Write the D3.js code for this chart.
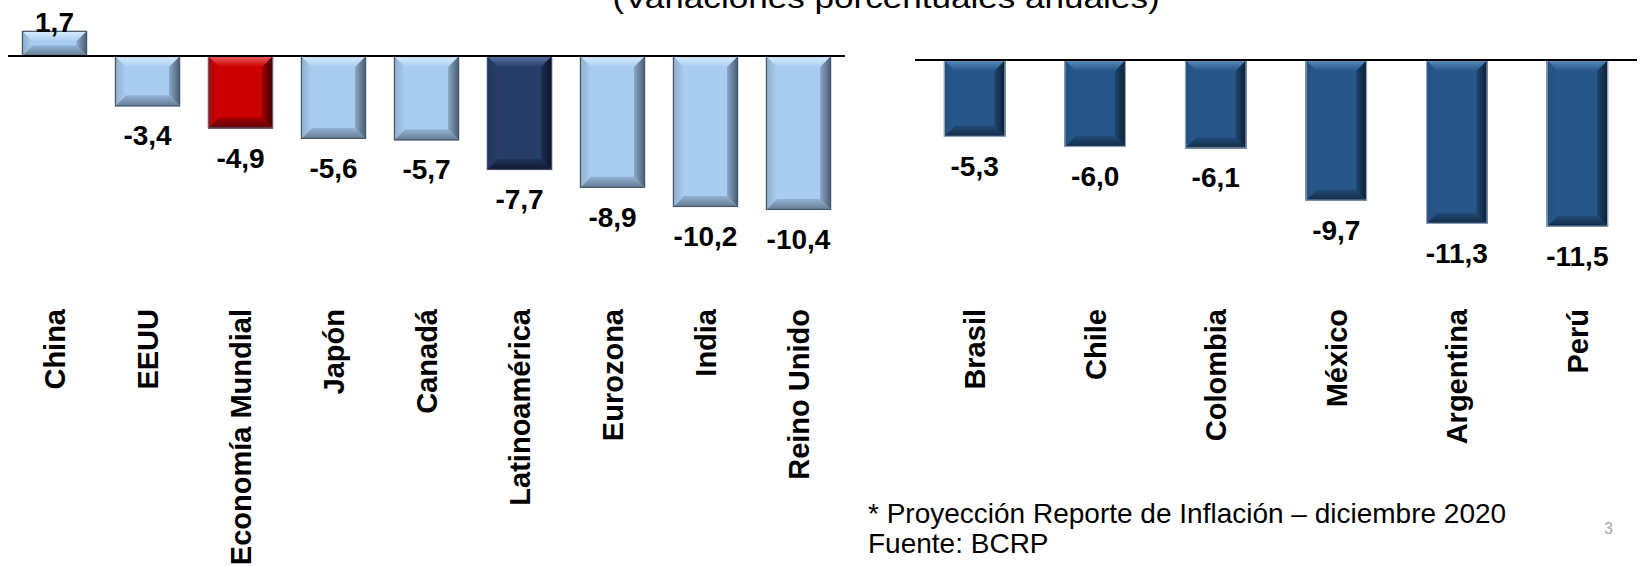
<!DOCTYPE html>
<html>
<head>
<meta charset="utf-8">
<script src="https://cdn.jsdelivr.net/npm/d3@7"></script>
<style>
  body { margin: 0; background: #ffffff; }
  svg { display: block; }
  text { font-family: "Liberation Sans", Arial, sans-serif; }
</style>
</head>
<body>
<svg id="chart" width="1642" height="566"></svg>
<script>
// Growth projections 2020 (annual % change)
const worldCategories = ["China", "EEUU", "Economía Mundial", "Japón", "Canadá", "Latinoamérica", "Eurozona", "India", "Reino Unido"];
const worldValues = [1.7, -3.4, -4.9, -5.6, -5.7, -7.7, -8.9, -10.2, -10.4];
const worldGroups = ["light", "light", "red", "light", "light", "navy", "light", "light", "light"];

const latamCategories = ["Brasil", "Chile", "Colombia", "México", "Argentina", "Perú"];
const latamValues = [-5.3, -6.0, -6.1, -9.7, -11.3, -11.5];
const latamGroups = ["blue", "blue", "blue", "blue", "blue", "blue"];

const titleText = "(Variaciones porcentuales anuales)";
const noteLines = ["* Proyección Reporte de Inflación – diciembre 2020", "Fuente: BCRP"];
const pageNumber = "3";

// Bevel colour themes: face, outer/inner tones of each edge, outline
const themes = {
  light: { face: "#a8cdf1", topO: "#dcefff", topI: "#a8cdf1", botO: "#647a92", botI: "#93b3d3",
           leftO: "#8eadcc", leftI: "#a8cdf1", rightO: "#485b70", rightI: "#8ba8c6", stroke: "#46576a" },
  red:   { face: "#cc0000", topO: "#ee6060", topI: "#cc0000", botO: "#5e0000", botI: "#a40000",
           leftO: "#b00000", leftI: "#cc0000", rightO: "#3e0000", rightI: "#9a0000", stroke: "#56657a" },
  navy:  { face: "#263d67", topO: "#5a77a8", topI: "#263d67", botO: "#0f1a30", botI: "#1f3357",
           leftO: "#213760", leftI: "#263d67", rightO: "#0a1222", rightI: "#1d3052", stroke: "#3f4e66" },
  blue:  { face: "#27578a", topO: "#5a8bbd", topI: "#27578a", botO: "#122a45", botI: "#214b77",
           leftO: "#24507f", leftI: "#27578a", rightO: "#0b1d31", rightI: "#1f4670", stroke: "#8ea3b8" }
};

const fmt = d3.formatLocale({ decimal: ",", thousands: ".", grouping: [3], currency: ["", ""], minus: "-" }).format(".1f");

const svg = d3.select("#chart");
const defs = svg.append("defs");

// Linear gradients for each bevel side of every theme
Object.entries(themes).forEach(([name, t]) => {
  const sides = {
    top:    { x1: 0, y1: 0, x2: 0, y2: 1, a: t.topO, b: t.topI },
    bottom: { x1: 0, y1: 1, x2: 0, y2: 0, a: t.botO, b: t.botI },
    left:   { x1: 0, y1: 0, x2: 1, y2: 0, a: t.leftO, b: t.leftI },
    right:  { x1: 1, y1: 0, x2: 0, y2: 0, a: t.rightO, b: t.rightI }
  };
  Object.entries(sides).forEach(([side, s]) => {
    const g = defs.append("linearGradient").attr("id", `g-${name}-${side}`)
      .attr("x1", s.x1).attr("y1", s.y1).attr("x2", s.x2).attr("y2", s.y2);
    g.append("stop").attr("offset", 0).attr("stop-color", s.a);
    g.append("stop").attr("offset", 1).attr("stop-color", s.b);
  });
});

function bevelBar(g, x, y0, w, h, theme) {
  const t = themes[theme];
  const b = Math.min(11, h / 2.4, w / 4);
  const x1 = x + w, y1 = y0 + h;
  const poly = pts => pts.map(p => p.join(",")).join(" ");
  g.append("rect").attr("x", x).attr("y", y0).attr("width", w).attr("height", h).attr("fill", t.face);
  g.append("polygon").attr("points", poly([[x, y0], [x1, y0], [x1 - b, y0 + b], [x + b, y0 + b]])).attr("fill", `url(#g-${theme}-top)`);
  g.append("polygon").attr("points", poly([[x, y1], [x1, y1], [x1 - b, y1 - b], [x + b, y1 - b]])).attr("fill", `url(#g-${theme}-bottom)`);
  g.append("polygon").attr("points", poly([[x, y0], [x + b, y0 + b], [x + b, y1 - b], [x, y1]])).attr("fill", `url(#g-${theme}-left)`);
  g.append("polygon").attr("points", poly([[x1, y0], [x1 - b, y0 + b], [x1 - b, y1 - b], [x1, y1]])).attr("fill", `url(#g-${theme}-right)`);
  g.append("rect").attr("x", x + 0.5).attr("y", y0 + 0.5).attr("width", w - 1).attr("height", h - 1)
    .attr("fill", "none").attr("stroke", t.stroke).attr("stroke-width", 1.2);
}

function drawPanel(cfg) {
  const g = svg.append("g");
  const x = d3.scaleBand().domain(cfg.categories).range(cfg.xRange)
    .paddingInner(cfg.padInner).paddingOuter(cfg.padOuter);
  const y = d3.scaleLinear().domain([0, -10]).range([cfg.zeroY, cfg.zeroY + cfg.pxPerTen]);

  cfg.categories.forEach((c, i) => {
    const v = cfg.values[i];
    const top = y(Math.max(0, v));
    const h = Math.abs(y(v) - y(0));
    bevelBar(g, x(c), top, x.bandwidth(), h, cfg.groups[i]);
  });

  // zero line
  g.append("line")
    .attr("x1", x.range()[0]).attr("x2", x.range()[1])
    .attr("y1", y(0)).attr("y2", y(0))
    .attr("stroke", "#000").attr("stroke-width", 2);

  // value labels
  g.selectAll("text.value").data(cfg.categories).join("text")
    .attr("class", "value")
    .attr("x", c => x(c) + x.bandwidth() / 2)
    .attr("y", (c, i) => {
      const v = cfg.values[i];
      return v >= 0 ? y(v) + 1 : y(v) + 39;
    })
    .attr("text-anchor", "middle")
    .attr("font-size", 28).attr("font-weight", "bold").attr("fill", "#000")
    .text((c, i) => fmt(cfg.values[i]));

  // category labels (rotated)
  g.selectAll("text.cat").data(cfg.categories).join("text")
    .attr("class", "cat")
    .attr("transform", c => `translate(${x(c) + x.bandwidth() / 2},${cfg.labelY}) rotate(-90)`)
    .attr("text-anchor", "end").attr("dy", "0.36em")
    .attr("font-size", 29).attr("font-weight", "bold").attr("fill", "#000")
    .text(c => c);
}

drawPanel({
  categories: worldCategories, values: worldValues, groups: worldGroups,
  xRange: [8, 845], padInner: 0.3, padOuter: 0.15,
  zeroY: 56, pxPerTen: 148, labelY: 309
});

drawPanel({
  categories: latamCategories, values: latamValues, groups: latamGroups,
  xRange: [915, 1637], padInner: 0.49, padOuter: 0.24,
  zeroY: 60, pxPerTen: 145, labelY: 309
});

// title (partly above the top edge)
svg.append("text")
  .attr("transform", "translate(886,8) scale(1.17,1)")
  .attr("text-anchor", "middle").attr("font-size", 30).attr("fill", "#000")
  .text(titleText);

// source note
svg.append("g").selectAll("text").data(noteLines).join("text")
  .attr("x", 868).attr("y", (d, i) => 523 + i * 30)
  .attr("font-size", 28).attr("fill", "#000")
  .text(d => d);

svg.append("text")
  .attr("x", 1604).attr("y", 534)
  .attr("font-size", 16).attr("fill", "#a8a8a8")
  .text(pageNumber);
</script>
</body>
</html>
